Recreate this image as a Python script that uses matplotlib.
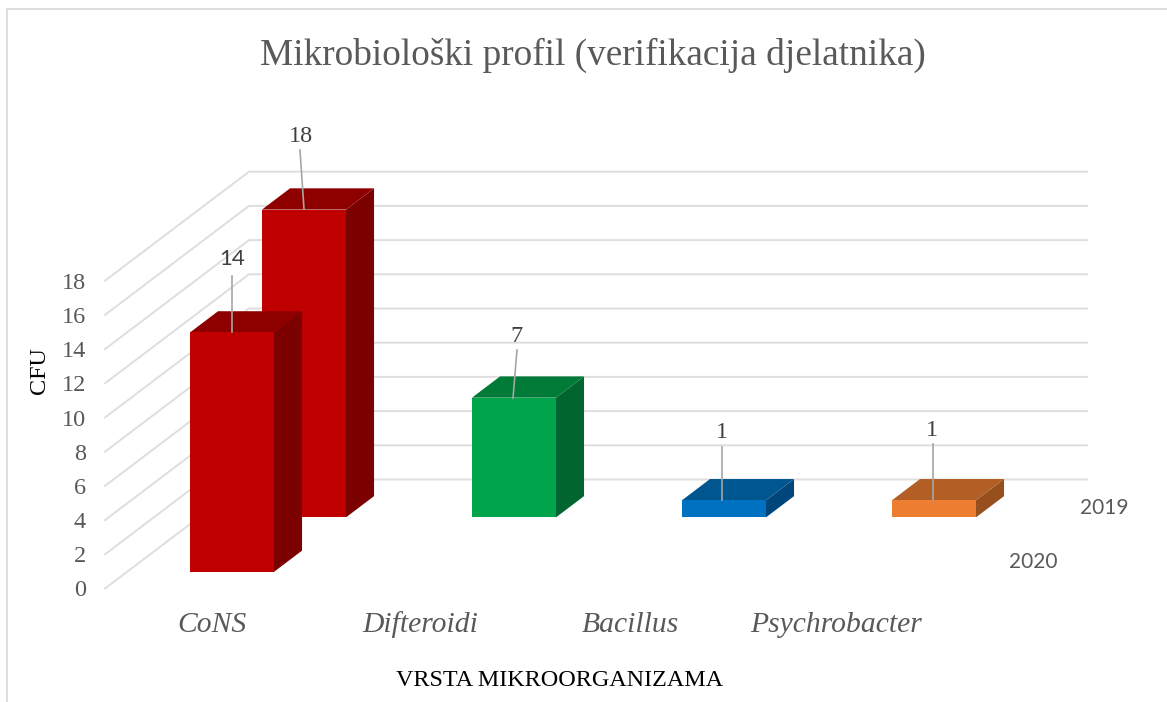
import matplotlib
matplotlib.use("Agg")
import matplotlib.pyplot as plt
from matplotlib.patches import Polygon

categories = ["CoNS", "Difteroidi", "Bacillus", "Psychrobacter"]
series = ["2020", "2019"]
values_2020 = [14, 0, 0, 0]
values_2019 = [18, 7, 1, 1]
y_ticks = [0, 2, 4, 6, 8, 10, 12, 14, 16, 18]

# front, top, side
red = ("#C00000", "#8E0000", "#7B0000")
green = ("#00A44A", "#007A37", "#00652E")
blue = ("#0070C0", "#00568F", "#00467A")
orange = ("#ED7D31", "#B25E24", "#974F1E")
colors_2020 = [red, green, blue, orange]
colors_2019 = [red, green, blue, orange]

# pixel geometry of the oblique view
X0, Y0 = 105, 588.5
CAT_W = 210
UNIT = 17.1
DX, DY = 72, 54.5
BAR_W = 84
BAR_MARGIN = (CAT_W - BAR_W) / 2
DEPTH_GAP = 0.305
DEPTH_BAR = 0.39

GRID = "#DEDEDE"
TEXT = "#595959"
SERIF = "Liberation Serif"
SANS = "Lato"


def project(x, value, depth):
    """x: category units, value: CFU, depth: series units"""
    return X0 + x * CAT_W + depth * DX, Y0 - value * UNIT - depth * DY


def draw_bar(ax, cat, ser, value, cols):
    d0 = ser + DEPTH_GAP
    d1 = d0 + DEPTH_BAR
    x0 = cat + BAR_MARGIN / CAT_W
    x1 = x0 + BAR_W / CAT_W
    front = [project(x0, 0, d0), project(x1, 0, d0), project(x1, value, d0), project(x0, value, d0)]
    top = [project(x0, value, d0), project(x1, value, d0), project(x1, value, d1), project(x0, value, d1)]
    side = [project(x1, 0, d0), project(x1, 0, d1), project(x1, value, d1), project(x1, value, d0)]
    ax.add_patch(Polygon(side, facecolor=cols[2], edgecolor="none", zorder=3 + 2 * (1 - ser)))
    ax.add_patch(Polygon(top, facecolor=cols[1], edgecolor="none", zorder=3 + 2 * (1 - ser)))
    ax.add_patch(Polygon(front, facecolor=cols[0], edgecolor="none", zorder=3 + 2 * (1 - ser)))


fig = plt.figure(figsize=(11.67, 7.02), dpi=100)
ax = fig.add_axes([0, 0, 1, 1])
ax.set_xlim(0, 1167)
ax.set_ylim(702, 0)
ax.axis("off")

# chart frame
ax.plot([7, 7, 1167], [702, 8.5, 8.5], color=GRID, lw=1.5, solid_joinstyle="miter")

# gridlines on the side wall and back wall
for v in y_ticks:
    xa, ya = project(0, v, 0)
    xb, yb = project(0, v, 2)
    xc, yc = project(4, v, 2)
    ax.plot([xa, xb, xc - 2], [ya, yb, yc], color=GRID, lw=1.4, zorder=1, solid_joinstyle="miter")
    ax.text(xa - 19, ya + 2.5, str(v), family=SERIF, fontsize=17.5, color=TEXT, ha="right", va="center")

for i in range(len(categories)):
    if values_2019[i] > 0:
        draw_bar(ax, i, 1, values_2019[i], colors_2019[i])
    if values_2020[i] > 0:
        draw_bar(ax, i, 0, values_2020[i], colors_2020[i])

# data labels with leader lines
label_pos_2019 = [(301, 137), (516.5, 337), (722, 432), (932, 430)]
leader_2019 = [((300, 150), (304, 209)), ((517, 350), (513, 398)), ((722, 447), (722, 500)), ((933, 444), (933, 500))]
for v, pos, lead in zip(values_2019, label_pos_2019, leader_2019):
    ax.plot(*zip(*lead), color="#A6A6A6", lw=1.2, zorder=8)
    ax.text(pos[0], pos[1], str(v), family=SERIF, fontsize=17.5, color="#404040", ha="center", va="center")
ax.plot([232, 232], [276, 332], color="#A6A6A6", lw=1.2, zorder=8)
ax.text(232, 259, str(values_2020[0]), family=SANS, fontsize=16, color="#404040", ha="center", va="center")

# category labels
cat_x = [211.5, 420, 630, 836]
for c, x in zip(categories, cat_x):
    ax.text(x, 625, c, family=SERIF, style="italic", fontsize=21.3, color=TEXT, ha="center", va="center")

# series labels
ax.text(1104, 508, series[1], family=SANS, fontsize=15, color=TEXT, ha="center", va="center")
ax.text(1033, 562, series[0], family=SANS, fontsize=15, color=TEXT, ha="center", va="center")

ax.text(592.5, 55, "Mikrobiološki profil (verifikacija djelatnika)", family=SERIF, fontsize=26.8, color=TEXT, ha="center", va="center")
ax.text(40, 371, "CFU", family=SERIF, fontsize=17.4, color="black", rotation=90, ha="center", va="center")
ax.text(559.5, 680, "VRSTA MIKROORGANIZAMA", family=SERIF, fontsize=17.4, color="black", ha="center", va="center")

fig.savefig("out.png", dpi=100)
